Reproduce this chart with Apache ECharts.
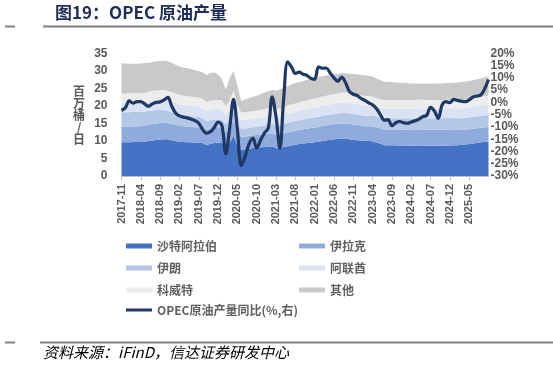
<!DOCTYPE html>
<html><head><meta charset="utf-8">
<script src="https://cdn.jsdelivr.net/npm/echarts@6/dist/echarts.min.js"></script>
<style>html,body{margin:0;padding:0;background:#fff}#c{width:553px;height:366px}</style>
</head><body><div id="c"></div>
<script>
const categories = [
'2017-11','2017-12',
'2018-01','2018-02','2018-03','2018-04','2018-05','2018-06','2018-07','2018-08','2018-09','2018-10','2018-11','2018-12',
'2019-01','2019-02','2019-03','2019-04','2019-05','2019-06','2019-07','2019-08','2019-09','2019-10','2019-11','2019-12',
'2020-01','2020-02','2020-03','2020-04','2020-05','2020-06','2020-07','2020-08','2020-09','2020-10','2020-11','2020-12',
'2021-01','2021-02','2021-03','2021-04','2021-05','2021-06','2021-07','2021-08','2021-09','2021-10','2021-11','2021-12',
'2022-01','2022-02','2022-03','2022-04','2022-05','2022-06','2022-07','2022-08','2022-09','2022-10','2022-11','2022-12',
'2023-01','2023-02','2023-03','2023-04','2023-05','2023-06','2023-07','2023-08','2023-09','2023-10','2023-11','2023-12',
'2024-01','2024-02','2024-03','2024-04','2024-05','2024-06','2024-07','2024-08','2024-09','2024-10','2024-11','2024-12',
'2025-01','2025-02','2025-03','2025-04','2025-05','2025-06','2025-07','2025-08','2025-09','2025-10'];

const saudi = [9.6,9.6,9.6,9.7,9.7,9.7,9.8,10.0,10.1,10.3,
10.4,10.5,10.5,10.2,10.0,9.8,9.7,9.6,9.6,9.5,
9.5,9.4,8.8,9.2,9.4,9.5,9.4,8.4,9.4,11.5,
8.6,7.4,7.6,7.8,8.0,8.1,8.2,8.3,8.4,8.5,
7.9,8.0,8.3,8.5,8.7,8.9,9.1,9.2,9.4,9.5,
9.6,9.8,10.0,10.2,10.3,10.5,10.6,10.7,10.6,10.5,
10.3,10.2,10.1,10.0,10.0,9.9,9.5,9.3,8.8,8.8,
8.8,8.8,8.7,8.7,8.7,8.6,8.7,8.7,8.7,8.6,
8.6,8.6,8.6,8.6,8.7,8.7,8.8,8.8,8.9,9.0,
9.1,9.3,9.4,9.6,9.7,9.8];

const iraq = [4.5,4.5,4.5,4.5,4.5,4.5,4.5,4.6,4.7,4.7,
4.7,4.7,4.6,4.6,4.6,4.5,4.5,4.5,4.4,4.4,
4.4,4.3,4.3,4.2,4.3,4.2,4.2,4.0,4.1,4.3,
4.1,3.8,3.7,3.6,3.6,3.6,3.6,3.6,3.7,3.7,
3.8,3.8,3.8,3.9,3.9,4.0,4.0,4.1,4.1,4.2,
4.2,4.2,4.3,4.3,4.3,4.3,4.3,4.3,4.4,4.4,
4.4,4.4,4.3,4.2,4.2,4.3,4.3,4.3,4.4,4.5,
4.5,4.5,4.5,4.5,4.5,4.5,4.5,4.6,4.6,4.6,
4.6,4.6,4.6,4.6,4.5,4.4,4.4,4.3,4.2,4.2,
4.2,4.2,4.2,4.2,4.2,4.2];

const iran = [4.1,4.1,4.1,4.1,4.1,4.0,4.0,4.0,3.9,3.8,
3.7,3.6,3.5,3.4,3.3,3.3,3.2,3.2,3.1,3.1,
3.0,2.8,2.6,2.5,2.5,2.5,2.5,2.4,2.5,2.5,
2.4,2.3,2.3,2.3,2.3,2.4,2.4,2.5,2.5,2.6,
2.6,2.7,2.7,2.7,2.8,2.8,2.8,2.8,2.8,2.9,
2.9,2.9,2.9,2.9,2.9,2.9,2.9,3.0,3.0,3.0,
3.0,3.0,3.0,3.0,3.0,3.1,3.1,3.1,3.2,3.2,
3.2,3.2,3.2,3.3,3.3,3.3,3.3,3.3,3.3,3.3,
3.3,3.3,3.3,3.3,3.4,3.4,3.4,3.4,3.4,3.4,
3.4,3.4,3.4,3.4,3.4,3.4];

const uae = [2.7,2.7,2.7,2.8,2.8,2.8,2.8,2.8,2.9,2.9,
3.0,3.0,3.0,3.0,2.9,2.9,2.9,2.9,2.9,2.9,
2.9,2.9,2.9,2.9,2.9,2.9,2.9,2.7,2.9,3.3,
2.6,2.4,2.4,2.4,2.4,2.4,2.4,2.4,2.5,2.5,
2.5,2.5,2.5,2.6,2.6,2.6,2.7,2.7,2.7,2.8,
2.8,2.8,2.9,2.9,2.9,3.0,3.0,3.0,3.0,2.9,
2.9,2.9,2.9,2.9,2.9,2.8,2.8,2.7,2.7,2.7,
2.7,2.7,2.7,2.7,2.7,2.7,2.7,2.7,2.7,2.7,
2.7,2.7,2.7,2.7,2.7,2.7,2.8,2.8,2.8,2.8,
2.8,2.9,2.9,2.9,3.0,3.0];

const kuwait = [2.6,2.6,2.6,2.6,2.6,2.6,2.6,2.6,2.7,2.7,
2.7,2.7,2.7,2.7,2.7,2.7,2.6,2.6,2.6,2.6,
2.6,2.6,2.6,2.6,2.6,2.6,2.6,2.4,2.6,2.8,
2.5,2.2,2.2,2.2,2.2,2.2,2.2,2.3,2.3,2.3,
2.3,2.3,2.3,2.4,2.4,2.4,2.4,2.5,2.5,2.5,
2.5,2.6,2.6,2.6,2.7,2.7,2.7,2.8,2.8,2.8,
2.7,2.7,2.7,2.7,2.7,2.6,2.6,2.5,2.5,2.5,
2.5,2.5,2.5,2.5,2.5,2.5,2.5,2.5,2.5,2.5,
2.5,2.5,2.5,2.5,2.5,2.5,2.5,2.5,2.5,2.5,
2.5,2.5,2.5,2.5,2.5,2.5];

const others = [8.6,8.6,8.5,8.3,8.3,8.5,8.5,8.3,8.2,8.3,
8.3,8.4,8.4,8.3,8.2,8.0,8.0,7.9,7.9,7.7,
7.5,7.6,7.6,7.9,7.9,7.2,6.0,4.7,6.4,5.6,
5.6,3.2,3.6,3.9,4.1,4.2,4.5,4.7,4.8,5.0,
5.2,5.4,5.6,5.5,5.7,5.8,5.8,5.8,5.9,5.8,
6.0,5.9,5.8,5.8,5.8,5.7,5.7,5.5,5.5,5.6,
5.8,5.8,5.8,5.9,5.8,5.7,5.5,5.4,5.3,5.2,
5.1,5.0,5.0,4.8,4.8,4.8,4.7,4.6,4.6,4.6,
4.7,4.7,4.7,4.7,4.7,4.8,4.7,4.9,5.0,5.0,
5.1,5.0,5.1,5.2,5.3,5.6];

const yoy = [-3.3,-2.2,0.6,-0.3,0.3,0.3,-0.6,-1.6,-0.6,0.0,
0.2,1.0,2.0,-1.5,-4.3,-5.5,-6.0,-6.3,-6.8,-7.4,
-8.5,-11.0,-12.6,-12.0,-10.2,-8.0,-9.5,-21.0,-10.5,1.2,
-11.0,-25.8,-22.0,-17.0,-14.6,-18.6,-15.4,-12.5,-10.5,2.3,
-6.0,-18.7,2.0,16.5,14.5,11.8,12.3,11.5,11.0,9.8,
9.4,14.5,13.9,14.0,12.0,10.0,8.6,10.3,8.0,4.5,
3.3,2.8,1.6,0.8,-0.2,-1.0,-2.5,-5.0,-7.2,-7.0,
-9.5,-8.3,-7.8,-8.3,-8.5,-8.0,-7.5,-6.8,-5.8,-5.3,
-2.0,-3.5,-6.5,-1.0,0.3,-0.1,1.2,0.8,0.5,0.3,
1.0,2.2,2.6,3.0,5.5,9.3];

const leftTicks = {min:0, max:35, interval:5};
const rightTicks = {min:-30, max:20, interval:5};

const areaNames = ['沙特阿拉伯','伊拉克','伊朗','阿联酋','科威特','其他'];
const lineName = 'OPEC原油产量同比(%,右)';
const areaColors = ['#4472C4','#8FAADC','#B4C7E7','#DAE3F3','#EDEDED','#C9C9C9'];
const lineColor = '#1F3864';
const areaData = [saudi, iraq, iran, uae, kuwait, others];

const FONT = '"Liberation Sans", Arial, "Noto Sans CJK SC", sans-serif';
const CJK = '"Noto Sans CJK SC", "Liberation Sans", sans-serif';
const GRAY = '#595959';

const series = areaData.map((d, k) => ({
  name: areaNames[k], type: 'line', stack: 'total', data: d,
  symbol: 'none', lineStyle: {width: 0}, smooth: false,
  areaStyle: {color: areaColors[k], opacity: 1},
  itemStyle: {color: areaColors[k]}, z: 1
}));
series.push({
  name: lineName, type: 'line', yAxisIndex: 1, data: yoy, smooth: 0.35,
  symbol: 'none', lineStyle: {color: lineColor, width: 3.2},
  itemStyle: {color: lineColor}, z: 5
});

const legendPos = [
  [areaNames[0], 126, 240], [areaNames[1], 299, 240],
  [areaNames[2], 126, 262], [areaNames[3], 299, 262],
  [areaNames[4], 126, 284], [areaNames[5], 299, 284],
  [lineName, 126, 304]
];
const legends = legendPos.map(([n, x, y]) => ({
  data: [n], left: x, top: y, orient: 'horizontal', selectedMode: false,
  icon: 'rect', itemWidth: 26, itemHeight: n === lineName ? 3 : 5, itemGap: 5,
  padding: 0,
  textStyle: {fontFamily: CJK, fontSize: 12, color: '#606060', fontWeight: 'bold'}
}));

const chart = echarts.init(document.getElementById('c'), null, {renderer: 'canvas'});
chart.setOption({
  animation: false,
  backgroundColor: '#fff',
  grid: {left: 121.5, right: 64.5, top: 53.3, bottom: 190, containLabel: false},
  legend: legends,
  xAxis: {
    type: 'category', data: categories, boundaryGap: false,
    axisLine: {show: true, lineStyle: {color: '#BFBFBF', width: 1}},
    axisTick: {show: true, interval: 4, length: 4, lineStyle: {color: '#BFBFBF'}},
    axisLabel: {interval: 4, rotate: 90, margin: 8, fontFamily: FONT, fontSize: 11,
      color: GRAY, fontWeight: 'bold', showMaxLabel: false},
    splitLine: {show: false}
  },
  yAxis: [
    {type: 'value', min: leftTicks.min, max: leftTicks.max, interval: leftTicks.interval,
      axisLine: {show: false}, axisTick: {show: false}, splitLine: {show: false},
      axisLabel: {margin: 14, fontFamily: FONT, fontSize: 12, color: GRAY, fontWeight: 'bold'}},
    {type: 'value', min: rightTicks.min, max: rightTicks.max, interval: rightTicks.interval,
      position: 'right',
      axisLine: {show: false}, axisTick: {show: false}, splitLine: {show: false},
      axisLabel: {margin: 2, formatter: '{value}%', fontFamily: FONT, fontSize: 12, color: GRAY, fontWeight: 'bold'}}
  ],
  series: series,
  graphic: [
    {type: 'text', left: 55, top: 4, style: {text: '图19：OPEC 原油产量', fontFamily: CJK,
      fontSize: 17, fontWeight: 'bold', fill: '#1F2D5A'}},
    {type: 'line', shape: {x1: 5, y1: 26.5, x2: 15, y2: 26.5}, style: {stroke: '#7F7F7F', lineWidth: 2}},
    {type: 'line', shape: {x1: 43, y1: 26.5, x2: 553, y2: 26.5}, style: {stroke: '#7F7F7F', lineWidth: 2}},
    {type: 'text', x: 79, y: 115, style: {text: '百\n万\n桶\n/\n日', fontFamily: CJK, fontSize: 12,
      fontWeight: 'bold', fill: GRAY, align: 'center', verticalAlign: 'middle', lineHeight: 12}},
    {type: 'line', shape: {x1: 5, y1: 342.5, x2: 15, y2: 342.5}, style: {stroke: '#7F7F7F', lineWidth: 2}},
    {type: 'line', shape: {x1: 40, y1: 342.5, x2: 553, y2: 342.5}, style: {stroke: '#7F7F7F', lineWidth: 2}},
    {type: 'text', left: 43, top: 345, style: {text: '资料来源：iFinD，信达证券研发中心', fontFamily: CJK,
      fontSize: 15, fontStyle: 'italic', fill: '#000'}}
  ]
});
</script></body></html>
